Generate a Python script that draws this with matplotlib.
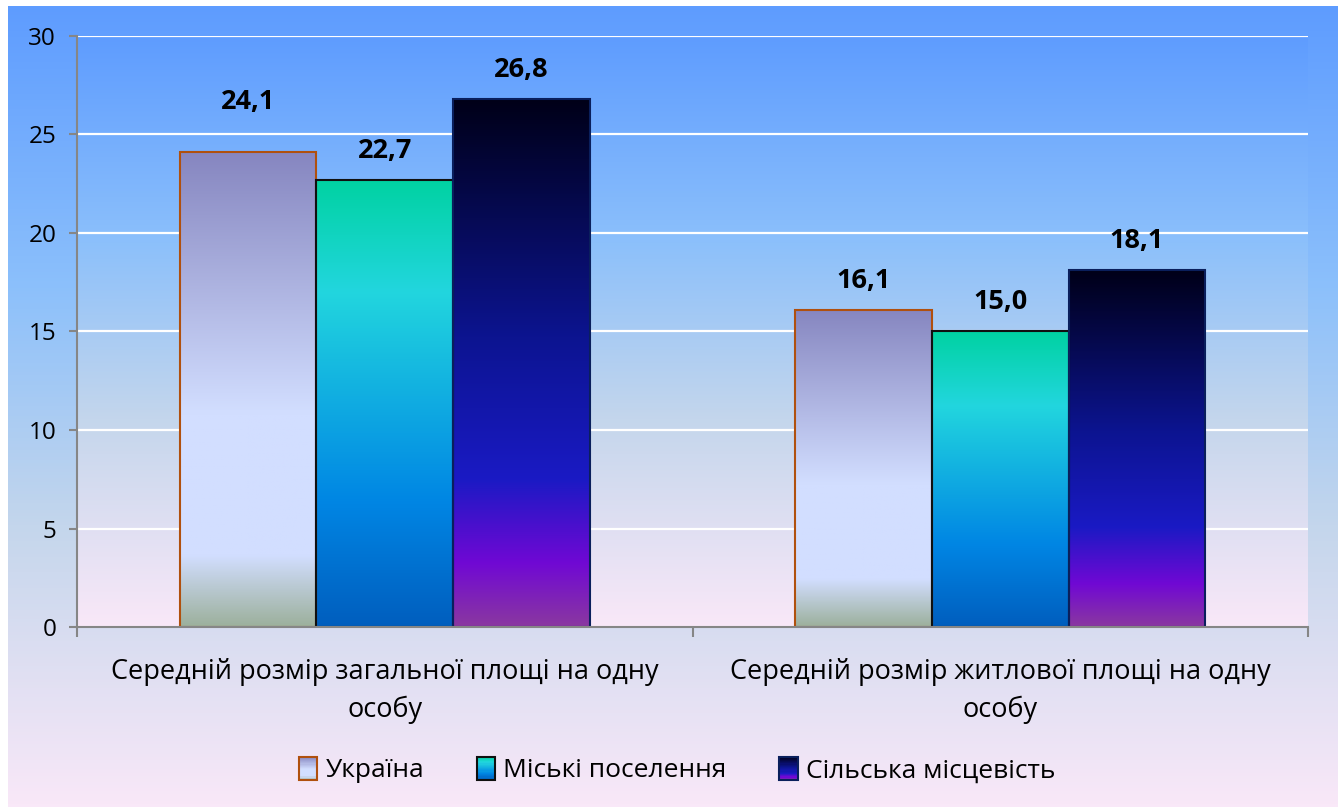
import matplotlib.pyplot as plt
import numpy as np
from matplotlib.colors import LinearSegmentedColormap
from matplotlib.legend_handler import HandlerBase
from matplotlib.patches import Rectangle, Patch

plt.rcParams["font.family"] = ["Open Sans", "Noto Sans", "DejaVu Sans"]

# data
categories = [
    "Середній розмір загальної площі на одну\nособу",
    "Середній розмір житлової площі на одну\nособу",
]
series_names = ["Україна", "Міські поселення", "Сільська місцевість"]
ukraine = [24.1, 16.1]
urban = [22.7, 15.0]
rural = [26.8, 18.1]
values = [ukraine, urban, rural]

# gradient fills (top -> bottom) and edges for each series
grad_stops = [
    [(0.0, "#8686c0"), (0.55, "#d2deff"), (0.85, "#d2deff"), (1.0, "#9cb09c")],
    [(0.0, "#00d2a2"), (0.25, "#22d6de"), (0.72, "#0086e4"), (1.0, "#005ebe")],
    [(0.0, "#000018"), (0.45, "#0c1490"), (0.72, "#1a1ac4"), (0.88, "#7008d4"), (1.0, "#8a38a0")],
]
edge_colors = ["#b0500e", "#101010", "#0a1f5c"]
cmaps = [LinearSegmentedColormap.from_list(f"s{i}", s) for i, s in enumerate(grad_stops)]

bg_cmap = LinearSegmentedColormap.from_list(
    "bg", [(0.0, "#5e9cff"), (0.35, "#8cc0fb"), (0.65, "#c4d6ec"), (1.0, "#f9e8f8")]
)

fig = plt.figure(figsize=(13.44, 8.07), dpi=100)
W, H = 1344, 807

# outer panel gradient
bg_ax = fig.add_axes([8 / W, 0, (1338 - 8) / W, 1 - 6 / H], zorder=-10)
bg_ax.imshow(np.linspace(0, 1, 256).reshape(-1, 1), cmap=bg_cmap, aspect="auto",
             extent=[0, 1, 0, 1], origin="upper")
bg_ax.axis("off")

ax = fig.add_axes([77 / W, 1 - 627 / H, (1308 - 77) / W, (627 - 36) / H])
ax.set_facecolor("none")
ax.set_xlim(-0.5, 1.5)
ax.set_ylim(0, 30)

# plot area gradient
ax.imshow(np.linspace(0, 1, 256).reshape(-1, 1), cmap=bg_cmap, aspect="auto",
          extent=[-0.5, 1.5, 0, 30], origin="upper", zorder=0)

ax.set_yticks(np.arange(0, 31, 5))
ax.yaxis.grid(True, color="white", linewidth=1.6, zorder=1)
ax.set_axisbelow(True)

x = np.arange(len(categories))
w = 2 / 9
grad = np.linspace(0, 1, 256).reshape(-1, 1)
for i, vals in enumerate(values):
    pos = x + (i - 1) * w
    bars = ax.bar(pos, vals, width=w, facecolor="none", edgecolor=edge_colors[i],
                  linewidth=1.5, zorder=3)
    for b, v in zip(bars, vals):
        im = ax.imshow(grad, cmap=cmaps[i], aspect="auto", origin="upper",
                       extent=[b.get_x(), b.get_x() + b.get_width(), 0, v], zorder=2)
        im.set_clip_path(b)
        off = 36 if (i == 0 and v > 20) else 21
        ax.annotate(f"{v:.1f}".replace(".", ","), (b.get_x() + b.get_width() / 2, v),
                    xytext=(0, off), textcoords="offset points", ha="center", va="center",
                    fontsize=19.5, fontweight="bold", zorder=5)
ax.set_xlim(-0.5, 1.5)
ax.set_ylim(0, 30)

for s in ["top", "right"]:
    ax.spines[s].set_visible(False)
for s in ["left", "bottom"]:
    ax.spines[s].set_color("#868686")
    ax.spines[s].set_linewidth(1.5)
    ax.spines[s].set_zorder(4)

ax.tick_params(axis="y", length=6, width=1.5, color="#868686", labelsize=17.5, pad=9)
ax.set_xticks(x)
ax.set_xticklabels(categories, fontsize=19.5, linespacing=1.45)
ax.tick_params(axis="x", length=0, pad=22)
ax.set_xticks([-0.5, 0.5, 1.5], minor=True)
ax.tick_params(axis="x", which="minor", length=7, width=1.5, color="#868686")


class GradientHandler(HandlerBase):
    def __init__(self, cmap, edge):
        super().__init__()
        self.cmap = cmap
        self.edge = edge

    def create_artists(self, legend, orig_handle, xdescent, ydescent, width, height,
                       fontsize, trans):
        n = 20
        arts = []
        for k in range(n):
            y0 = -ydescent + height * (1 - (k + 1) / n)
            r = Rectangle((-xdescent, y0), width, height / n + 0.2,
                          facecolor=self.cmap((k + 0.5) / n), edgecolor="none",
                          transform=trans)
            arts.append(r)
        arts.append(Rectangle((-xdescent, -ydescent), width, height, facecolor="none",
                              edgecolor=self.edge, linewidth=1.5, transform=trans))
        return arts


handles = [Patch(label=n) for n in series_names]
fig.legend(handles, series_names, loc="center", bbox_to_anchor=(677 / W, 1 - 770 / H),
           ncol=3, frameon=False, fontsize=19, handlelength=0.7, handleheight=1.0,
           handletextpad=0.3, columnspacing=2.0,
           handler_map={h: GradientHandler(cmaps[i], edge_colors[i])
                        for i, h in enumerate(handles)})

fig.savefig("out.png", dpi=100)
